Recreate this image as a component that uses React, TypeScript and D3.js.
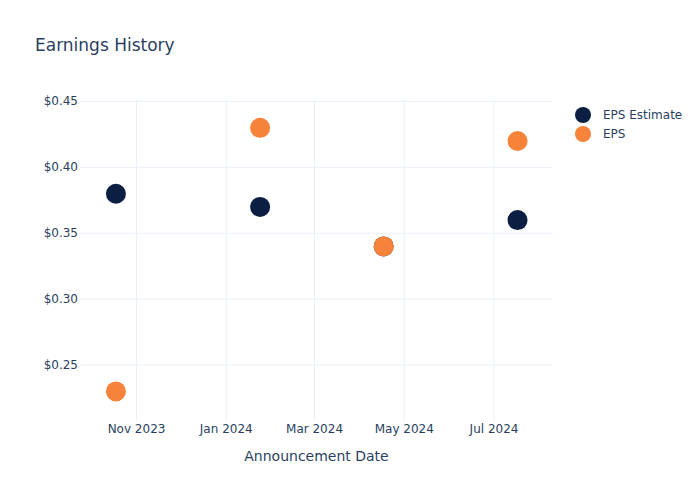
import React from "react";
import * as d3 from "d3";

const dates = ["2023-10-18", "2024-01-24", "2024-04-17", "2024-07-17"];
const epsEstimate = [0.38, 0.37, 0.34, 0.36];
const epsActual = [0.23, 0.43, 0.34, 0.42];
const yTicks = [0.25, 0.3, 0.35, 0.4, 0.45];
const xTicks = ["2023-11-01", "2024-01-01", "2024-03-01", "2024-05-01", "2024-07-01"];
const seriesNames = ["EPS Estimate", "EPS"];

const W = 700, H = 500;
const M = { l: 80, r: 147, t: 100, b: 80 };
const FONT = "'DejaVu Sans', 'Open Sans', sans-serif";
const TXT = "#2a3f5f";
const GRID = "#ebf0f8";
const COLORS = ["#0b1f42", "#f7823a"];

export default function App() {
  const parse = d3.utcParse("%Y-%m-%d");
  const x = d3
    .scaleUtc()
    .domain([new Date(Date.UTC(2023, 8, 23, 14)), new Date(Date.UTC(2024, 7, 10, 2))])
    .range([M.l, W - M.r]);
  const y = d3.scaleLinear().domain([0.2083, 0.4511]).range([H - M.b, M.t]);
  const fmtX = d3.utcFormat("%b %Y");
  const series = [epsEstimate, epsActual];

  return (
    <svg width={W} height={H} style={{ position: "absolute", left: 0, top: 0, background: "#fff" }} fontFamily={FONT}>
      <text x={35} y={51} fontSize={17} fill={TXT}>Earnings History</text>
      {xTicks.map((t) => {
        const px = x(parse(t)!);
        return (
          <g key={t}>
            <line x1={px} x2={px} y1={M.t} y2={H - M.b} stroke={GRID} strokeWidth={1} />
            <text x={px} y={H - M.b + 13} fontSize={12} fill={TXT} textAnchor="middle">{fmtX(parse(t)!)}</text>
          </g>
        );
      })}
      {yTicks.map((t) => {
        const py = y(t);
        return (
          <g key={t}>
            <line x1={M.l} x2={W - M.r} y1={py} y2={py} stroke={GRID} strokeWidth={1} />
            <text x={M.l - 2} y={py + 4} fontSize={12} fill={TXT} textAnchor="end">{"$" + t.toFixed(2)}</text>
          </g>
        );
      })}
      <text x={(M.l + W - M.r) / 2} y={461} fontSize={14} fill={TXT} textAnchor="middle">Announcement Date</text>
      {series.map((vals, si) => (
        <g key={si}>
          {vals.map((v, i) => (
            <circle key={i} cx={x(parse(dates[i])!)} cy={y(v)} r={10} fill={COLORS[si]} />
          ))}
        </g>
      ))}
      {seriesNames.map((n, i) => (
        <g key={n}>
          <circle cx={583} cy={115 + i * 19} r={8} fill={COLORS[i]} />
          <text x={603} y={119 + i * 19} fontSize={12} fill={TXT}>{n}</text>
        </g>
      ))}
    </svg>
  );
}
